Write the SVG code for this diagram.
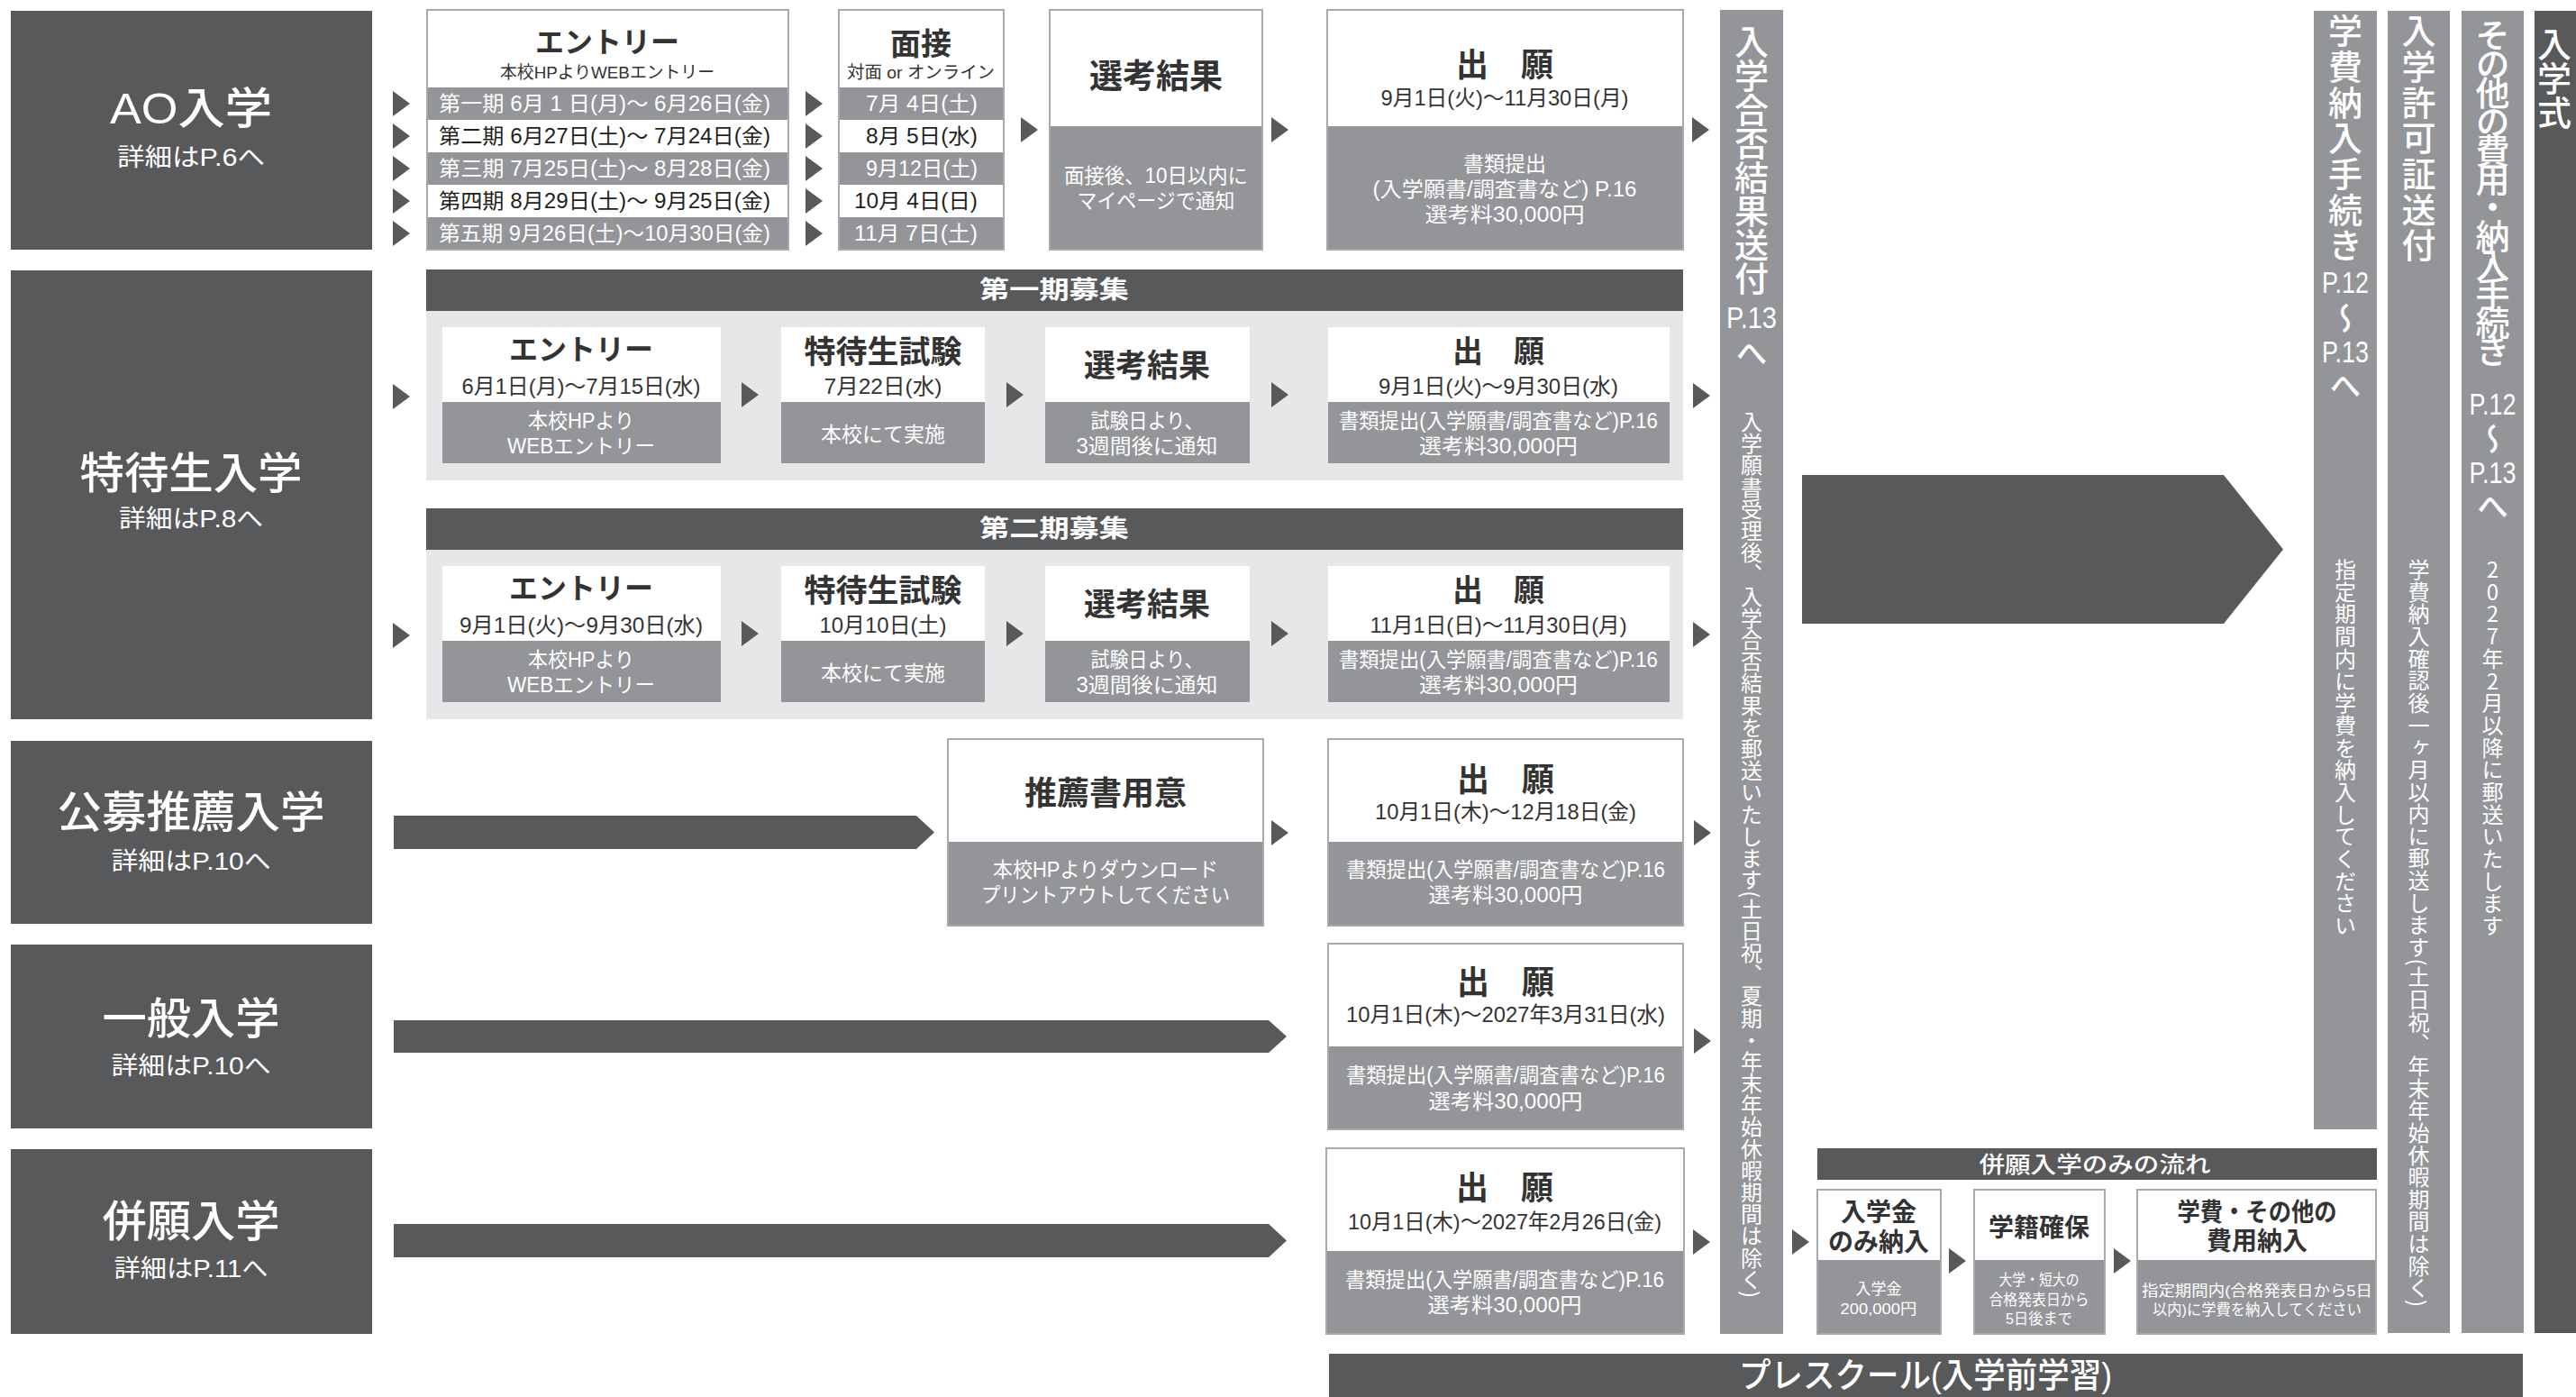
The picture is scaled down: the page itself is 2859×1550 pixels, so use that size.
<svg xmlns="http://www.w3.org/2000/svg" width="2859" height="1550" viewBox="0 0 2859 1550">
<defs>
<style>
.dk{fill:#58595b}
.md{fill:#939598}
.lt{fill:#e6e7e8}
.wh{fill:#fff}
.ol{fill:none;stroke:#a7a9ac;stroke-width:2}
text{font-family:"Liberation Sans","Noto Sans CJK JP",sans-serif;text-anchor:middle;dominant-baseline:central}
.ct{font-size:48px;font-weight:500;fill:#fff}
.cs{font-size:27px;fill:#fff}
.ti{font-size:34px;font-weight:700;fill:#333}
.ti2{font-size:28px;font-weight:700;fill:#333}
.dt{font-size:24px;fill:#333}
.sm{font-size:19px;fill:#333}
.rb{font-size:23px;fill:#231f20}
.rw{font-size:23px;fill:#fff}
.ws{font-size:23px;fill:#fff}
.ws2{font-size:17px;fill:#fff}
.hb{font-size:27px;font-weight:700;fill:#fff}
.vt{font-family:"Noto Sans CJK JP",sans-serif;writing-mode:vertical-rl;text-anchor:start;fill:#fff}
.vh{font-size:38px;font-weight:500}
.vm{font-size:35px;font-weight:500}
.vs{font-size:24px}
.cp{font-size:34px;fill:#fff}
.pb{font-size:38px;font-weight:500;fill:#fff}
</style>
<path id="ar" d="M0,-14L19,0L0,14Z" fill="#58595b"/>
</defs>
<rect width="2859" height="1550" fill="#fff"/>

<!-- Category boxes -->
<g id="cat-ao">
<rect class="dk" x="12" y="12" width="401" height="265"/>
<text class="ct" x="212" y="120" textLength="180" lengthAdjust="spacingAndGlyphs">AO入学</text>
<text class="cs" x="212" y="175" textLength="164" lengthAdjust="spacingAndGlyphs">詳細はP.6へ</text>
</g>
<g id="cat-tokutai">
<rect class="dk" x="12" y="300" width="401" height="498"/>
<text class="ct" x="212" y="525" textLength="247" lengthAdjust="spacingAndGlyphs">特待生入学</text>
<text class="cs" x="212" y="576" textLength="160" lengthAdjust="spacingAndGlyphs">詳細はP.8へ</text>
</g>
<g id="cat-koubo">
<rect class="dk" x="12" y="822" width="401" height="203"/>
<text class="ct" x="212" y="901" textLength="297" lengthAdjust="spacingAndGlyphs">公募推薦入学</text>
<text class="cs" x="212" y="956" textLength="177" lengthAdjust="spacingAndGlyphs">詳細はP.10へ</text>
</g>
<g id="cat-ippan">
<rect class="dk" x="12" y="1048" width="401" height="204"/>
<text class="ct" x="212" y="1130" textLength="197" lengthAdjust="spacingAndGlyphs">一般入学</text>
<text class="cs" x="212" y="1183" textLength="177" lengthAdjust="spacingAndGlyphs">詳細はP.10へ</text>
</g>
<g id="cat-heigan">
<rect class="dk" x="12" y="1275" width="401" height="205"/>
<text class="ct" x="212" y="1355" textLength="197" lengthAdjust="spacingAndGlyphs">併願入学</text>
<text class="cs" x="212" y="1408" textLength="171" lengthAdjust="spacingAndGlyphs">詳細はP.11へ</text>
</g>

<!-- AO row -->
<g id="ao-entry">
<rect class="wh" x="474" y="11" width="401" height="86"/>
<rect class="md" x="474" y="97" width="401" height="36"/>
<rect class="wh" x="474" y="133" width="401" height="36"/>
<rect class="md" x="474" y="169" width="401" height="36"/>
<rect class="wh" x="474" y="205" width="401" height="36"/>
<rect class="md" x="474" y="241" width="401" height="36"/>
<rect class="ol" x="474" y="11" width="401" height="266"/>
<text class="ti" x="674" y="47" style="font-size:32px">エントリー</text>
<text class="sm" x="674" y="80" textLength="238" lengthAdjust="spacingAndGlyphs">本校HPよりWEBエントリー</text>
<text class="rw" x="671" y="115" textLength="368" lengthAdjust="spacingAndGlyphs">第一期 6月 1 日(月)～ 6月26日(金)</text>
<text class="rb" x="671" y="151" textLength="368" lengthAdjust="spacingAndGlyphs">第二期 6月27日(土)～ 7月24日(金)</text>
<text class="rw" x="671" y="187" textLength="368" lengthAdjust="spacingAndGlyphs">第三期 7月25日(土)～ 8月28日(金)</text>
<text class="rb" x="671" y="223" textLength="368" lengthAdjust="spacingAndGlyphs">第四期 8月29日(土)～ 9月25日(金)</text>
<text class="rw" x="671" y="259" textLength="368" lengthAdjust="spacingAndGlyphs">第五期 9月26日(土)～10月30日(金)</text>
</g>
<g id="ao-interview">
<rect class="wh" x="931" y="11" width="183" height="86"/>
<rect class="md" x="931" y="97" width="183" height="36"/>
<rect class="wh" x="931" y="133" width="183" height="36"/>
<rect class="md" x="931" y="169" width="183" height="36"/>
<rect class="wh" x="931" y="205" width="183" height="36"/>
<rect class="md" x="931" y="241" width="183" height="36"/>
<rect class="ol" x="931" y="11" width="183" height="266"/>
<text class="ti" x="1022" y="49">面接</text>
<text class="sm" x="1022" y="80" textLength="164" lengthAdjust="spacingAndGlyphs">対面 or オンライン</text>
<text class="rw" x="1085" y="115" style="text-anchor:end" textLength="124" lengthAdjust="spacingAndGlyphs">7月 4日(土)</text>
<text class="rb" x="1085" y="151" style="text-anchor:end" textLength="124" lengthAdjust="spacingAndGlyphs">8月 5日(水)</text>
<text class="rw" x="1085" y="187" style="text-anchor:end" textLength="124" lengthAdjust="spacingAndGlyphs">9月12日(土)</text>
<text class="rb" x="1085" y="223" style="text-anchor:end" textLength="137" lengthAdjust="spacingAndGlyphs">10月 4日(日)</text>
<text class="rw" x="1085" y="259" style="text-anchor:end" textLength="137" lengthAdjust="spacingAndGlyphs">11月 7日(土)</text>
</g>
<g id="ao-result">
<rect class="wh" x="1165" y="11" width="236" height="129"/>
<rect class="md" x="1165" y="140" width="236" height="137"/>
<rect class="ol" x="1165" y="11" width="236" height="266"/>
<text class="ti" x="1283" y="85" style="font-size:37px">選考結果</text>
<text class="ws" x="1283" y="195" textLength="204" lengthAdjust="spacingAndGlyphs">面接後、10日以内に</text>
<text class="ws" x="1283" y="223" textLength="175" lengthAdjust="spacingAndGlyphs">マイページで通知</text>
</g>
<g id="ao-apply">
<rect class="wh" x="1473" y="11" width="395" height="129"/>
<rect class="md" x="1473" y="140" width="395" height="137"/>
<rect class="ol" x="1473" y="11" width="395" height="266"/>
<text class="ti" x="1670" y="72" style="font-size:36px">出　願</text>
<text class="dt" x="1670" y="108" textLength="275" lengthAdjust="spacingAndGlyphs">9月1日(火)～11月30日(月)</text>
<text class="ws" x="1670" y="182">書類提出</text>
<text class="ws" x="1670" y="210" textLength="293" lengthAdjust="spacingAndGlyphs">(入学願書/調査書など) P.16</text>
<text class="ws" x="1670" y="238" textLength="177" lengthAdjust="spacingAndGlyphs">選考料30,000円</text>
</g>

<!-- Tokutai period 1 -->
<g id="tokutai-1">
<rect class="dk" x="473" y="299" width="1395" height="46"/>
<text class="hb" x="1170" y="322" textLength="166" lengthAdjust="spacingAndGlyphs">第一期募集</text>
<rect class="lt" x="473" y="345" width="1395" height="188"/>
</g>
<g id="t1-entry">
<rect class="wh" x="491" y="363" width="309" height="83"/>
<rect class="md" x="491" y="446" width="309" height="68"/>
<text class="ti" x="645" y="388" style="font-size:32px">エントリー</text>
<text class="dt" x="645" y="428" textLength="265" lengthAdjust="spacingAndGlyphs">6月1日(月)～7月15日(水)</text>
<text class="ws" x="645" y="467" textLength="118" lengthAdjust="spacingAndGlyphs">本校HPより</text>
<text class="ws" x="645" y="495" textLength="164" lengthAdjust="spacingAndGlyphs">WEBエントリー</text>
</g>
<g id="t1-exam">
<rect class="wh" x="867" y="363" width="226" height="83"/>
<rect class="md" x="867" y="446" width="226" height="68"/>
<text class="ti" x="980" y="390" style="font-size:35px">特待生試験</text>
<text class="dt" x="980" y="428" textLength="131" lengthAdjust="spacingAndGlyphs">7月22日(水)</text>
<text class="ws" x="980" y="482" textLength="138" lengthAdjust="spacingAndGlyphs">本校にて実施</text>
</g>
<g id="t1-result">
<rect class="wh" x="1160" y="363" width="227" height="83"/>
<rect class="md" x="1160" y="446" width="227" height="68"/>
<text class="ti" x="1273" y="405" style="font-size:35px">選考結果</text>
<text class="ws" x="1273" y="467" textLength="125" lengthAdjust="spacingAndGlyphs">試験日より、</text>
<text class="ws" x="1273" y="495" textLength="157" lengthAdjust="spacingAndGlyphs">3週間後に通知</text>
</g>
<g id="t1-apply">
<rect class="wh" x="1474" y="363" width="379" height="83"/>
<rect class="md" x="1474" y="446" width="379" height="68"/>
<text class="ti" x="1663" y="390">出　願</text>
<text class="dt" x="1663" y="428" textLength="266" lengthAdjust="spacingAndGlyphs">9月1日(火)～9月30日(水)</text>
<text class="ws" x="1663" y="467" textLength="354" lengthAdjust="spacingAndGlyphs">書類提出(入学願書/調査書など)P.16</text>
<text class="ws" x="1663" y="495" textLength="176" lengthAdjust="spacingAndGlyphs">選考料30,000円</text>
</g>

<!-- Tokutai period 2 -->
<g id="tokutai-2">
<rect class="dk" x="473" y="564" width="1395" height="46"/>
<text class="hb" x="1170" y="587" textLength="166" lengthAdjust="spacingAndGlyphs">第二期募集</text>
<rect class="lt" x="473" y="610" width="1395" height="188"/>
</g>
<g id="t2-entry">
<rect class="wh" x="491" y="628" width="309" height="83"/>
<rect class="md" x="491" y="711" width="309" height="68"/>
<text class="ti" x="645" y="653" style="font-size:32px">エントリー</text>
<text class="dt" x="645" y="693" textLength="270" lengthAdjust="spacingAndGlyphs">9月1日(火)～9月30日(水)</text>
<text class="ws" x="645" y="732" textLength="118" lengthAdjust="spacingAndGlyphs">本校HPより</text>
<text class="ws" x="645" y="760" textLength="164" lengthAdjust="spacingAndGlyphs">WEBエントリー</text>
</g>
<g id="t2-exam">
<rect class="wh" x="867" y="628" width="226" height="83"/>
<rect class="md" x="867" y="711" width="226" height="68"/>
<text class="ti" x="980" y="655" style="font-size:35px">特待生試験</text>
<text class="dt" x="980" y="693" textLength="141" lengthAdjust="spacingAndGlyphs">10月10日(土)</text>
<text class="ws" x="980" y="747" textLength="138" lengthAdjust="spacingAndGlyphs">本校にて実施</text>
</g>
<g id="t2-result">
<rect class="wh" x="1160" y="628" width="227" height="83"/>
<rect class="md" x="1160" y="711" width="227" height="68"/>
<text class="ti" x="1273" y="670" style="font-size:35px">選考結果</text>
<text class="ws" x="1273" y="732" textLength="125" lengthAdjust="spacingAndGlyphs">試験日より、</text>
<text class="ws" x="1273" y="760" textLength="157" lengthAdjust="spacingAndGlyphs">3週間後に通知</text>
</g>
<g id="t2-apply">
<rect class="wh" x="1474" y="628" width="379" height="83"/>
<rect class="md" x="1474" y="711" width="379" height="68"/>
<text class="ti" x="1663" y="655">出　願</text>
<text class="dt" x="1663" y="693" textLength="285" lengthAdjust="spacingAndGlyphs">11月1日(日)～11月30日(月)</text>
<text class="ws" x="1663" y="732" textLength="354" lengthAdjust="spacingAndGlyphs">書類提出(入学願書/調査書など)P.16</text>
<text class="ws" x="1663" y="760" textLength="176" lengthAdjust="spacingAndGlyphs">選考料30,000円</text>
</g>

<!-- Koubo -->
<g id="koubo-suisen">
<rect class="wh" x="1052" y="820" width="350" height="114"/>
<rect class="md" x="1052" y="934" width="350" height="93"/>
<rect class="ol" x="1052" y="820" width="350" height="207"/>
<text class="ti" x="1227" y="880" style="font-size:36px">推薦書用意</text>
<text class="ws" x="1227" y="965" textLength="250" lengthAdjust="spacingAndGlyphs">本校HPよりダウンロード</text>
<text class="ws" x="1227" y="993" textLength="276" lengthAdjust="spacingAndGlyphs">プリントアウトしてください</text>
</g>
<g id="koubo-apply">
<rect class="wh" x="1474" y="820" width="394" height="114"/>
<rect class="md" x="1474" y="934" width="394" height="93"/>
<rect class="ol" x="1474" y="820" width="394" height="207"/>
<text class="ti" x="1671" y="865" style="font-size:36px">出　願</text>
<text class="dt" x="1671" y="900" textLength="290" lengthAdjust="spacingAndGlyphs">10月1日(木)～12月18日(金)</text>
<text class="ws" x="1671" y="965" textLength="354" lengthAdjust="spacingAndGlyphs">書類提出(入学願書/調査書など)P.16</text>
<text class="ws" x="1671" y="993" textLength="171" lengthAdjust="spacingAndGlyphs">選考料30,000円</text>
</g>

<!-- Ippan -->
<g id="ippan-apply">
<rect class="wh" x="1474" y="1047" width="394" height="114"/>
<rect class="md" x="1474" y="1161" width="394" height="92"/>
<rect class="ol" x="1474" y="1047" width="394" height="206"/>
<text class="ti" x="1671" y="1090" style="font-size:36px">出　願</text>
<text class="dt" x="1671" y="1125" textLength="354" lengthAdjust="spacingAndGlyphs">10月1日(木)～2027年3月31日(水)</text>
<text class="ws" x="1671" y="1193" textLength="354" lengthAdjust="spacingAndGlyphs">書類提出(入学願書/調査書など)P.16</text>
<text class="ws" x="1671" y="1222" textLength="171" lengthAdjust="spacingAndGlyphs">選考料30,000円</text>
</g>

<!-- Heigan -->
<g id="heigan-apply">
<rect class="wh" x="1472" y="1274" width="397" height="114"/>
<rect class="md" x="1472" y="1388" width="397" height="92"/>
<rect class="ol" x="1472" y="1274" width="397" height="206"/>
<text class="ti" x="1670" y="1318" style="font-size:36px">出　願</text>
<text class="dt" x="1670" y="1355" textLength="348" lengthAdjust="spacingAndGlyphs">10月1日(木)～2027年2月26日(金)</text>
<text class="ws" x="1670" y="1420" textLength="354" lengthAdjust="spacingAndGlyphs">書類提出(入学願書/調査書など)P.16</text>
<text class="ws" x="1670" y="1448" textLength="171" lengthAdjust="spacingAndGlyphs">選考料30,000円</text>
</g>

<!-- Vertical columns -->
<g id="col-goukaku">
<rect class="md" x="1909" y="11" width="70" height="1469"/>
<text class="vt vh" x="1944" y="27" textLength="301" lengthAdjust="spacing">入学合否結果送付</text>
<text class="cp" x="1944" y="352" textLength="56" lengthAdjust="spacingAndGlyphs">P.13</text>
<text class="vt vm" x="1944" y="374">へ</text>
<text class="vt vs" x="1944" y="456" textLength="984" lengthAdjust="spacing">入学願書受理後、入学合否結果を郵送いたします(土日祝、夏期・年末年始休暇期間は除く)</text>
</g>
<g id="col-gakuhi">
<rect class="md" x="2568" y="12" width="70" height="1241"/>
<text class="vt vh" x="2603" y="15" textLength="276" lengthAdjust="spacing">学費納入手続き</text>
<text class="cp" x="2603" y="313" textLength="52" lengthAdjust="spacingAndGlyphs">P.12</text>
<text class="vt vm" x="2603" y="335">～</text>
<text class="cp" x="2603" y="390" textLength="52" lengthAdjust="spacingAndGlyphs">P.13</text>
<text class="vt vm" x="2603" y="410">へ</text>
<text class="vt vs" x="2603" y="620" textLength="419" lengthAdjust="spacing">指定期間内に学費を納入してください</text>
</g>
<g id="col-kyoka">
<rect class="md" x="2650" y="12" width="69" height="1467"/>
<text class="vt vh" x="2684.5" y="15" textLength="276" lengthAdjust="spacing">入学許可証送付</text>
<text class="vt vs" x="2684.5" y="620" textLength="830" lengthAdjust="spacing">学費納入確認後一ヶ月以内に郵送します(土日祝、年末年始休暇期間は除く)</text>
</g>
<g id="col-sonota">
<rect class="md" x="2732" y="12" width="69" height="1467"/>
<text class="vt vh" x="2766.5" y="20" textLength="388" lengthAdjust="spacing">その他の費用・納入手続き</text>
<text class="cp" x="2766.5" y="448" textLength="52" lengthAdjust="spacingAndGlyphs">P.12</text>
<text class="vt vm" x="2766.5" y="469">～</text>
<text class="cp" x="2766.5" y="524" textLength="52" lengthAdjust="spacingAndGlyphs">P.13</text>
<text class="vt vm" x="2766.5" y="544">へ</text>
<text class="vt vs" x="2766.5" y="620" textLength="419" lengthAdjust="spacing" style="text-orientation:upright">2027年2月以降に郵送いたします</text>
</g>
<g id="col-nyugakushiki">
<rect class="dk" x="2813" y="12" width="60" height="1467"/>
<text class="vt vh" x="2835" y="30" textLength="114" lengthAdjust="spacing">入学式</text>
</g>

<!-- Heigan-only flow -->
<g id="heigan-only-header">
<rect class="dk" x="2017" y="1274" width="621" height="35"/>
<text class="hb" x="2325" y="1292" style="font-size:25px;font-weight:500" textLength="257" lengthAdjust="spacingAndGlyphs">併願入学のみの流れ</text>
</g>
<g id="ho-nyugakukin">
<rect class="wh" x="2017" y="1320" width="137" height="78"/>
<rect class="md" x="2017" y="1398" width="137" height="82"/>
<rect class="ol" x="2017" y="1320" width="137" height="160"/>
<text class="ti2" x="2085" y="1345">入学金</text>
<text class="ti2" x="2085" y="1378">のみ納入</text>
<text class="ws2" x="2085" y="1430">入学金</text>
<text class="ws2" x="2085" y="1452" textLength="85" lengthAdjust="spacingAndGlyphs">200,000円</text>
</g>
<g id="ho-gakuseki">
<rect class="wh" x="2191" y="1320" width="145" height="78"/>
<rect class="md" x="2191" y="1398" width="145" height="82"/>
<rect class="ol" x="2191" y="1320" width="145" height="160"/>
<text class="ti2" x="2263" y="1362">学籍確保</text>
<text class="ws2" x="2263" y="1420" textLength="89" lengthAdjust="spacingAndGlyphs">大学・短大の</text>
<text class="ws2" x="2263" y="1442" textLength="111" lengthAdjust="spacingAndGlyphs">合格発表日から</text>
<text class="ws2" x="2263" y="1463" textLength="74" lengthAdjust="spacingAndGlyphs">5日後まで</text>
</g>
<g id="ho-gakuhi">
<rect class="wh" x="2372" y="1320" width="265" height="78"/>
<rect class="md" x="2372" y="1398" width="265" height="82"/>
<rect class="ol" x="2372" y="1320" width="265" height="160"/>
<text class="ti2" x="2505" y="1345" textLength="177" lengthAdjust="spacingAndGlyphs">学費・その他の</text>
<text class="ti2" x="2505" y="1377">費用納入</text>
<text class="ws2" x="2505" y="1432" textLength="256" lengthAdjust="spacingAndGlyphs">指定期間内(合格発表日から5日</text>
<text class="ws2" x="2505" y="1453" textLength="232" lengthAdjust="spacingAndGlyphs">以内)に学費を納入してください</text>
</g>

<g id="preschool">
<rect class="dk" x="1475" y="1502" width="1325" height="60"/>
<text class="pb" x="2137" y="1526" textLength="414" lengthAdjust="spacingAndGlyphs">プレスクール(入学前学習)</text>
</g>

<!-- Connectors -->
<g id="connectors">
<use href="#ar" x="436" y="115"/><use href="#ar" x="436" y="151"/><use href="#ar" x="436" y="187"/><use href="#ar" x="436" y="223"/><use href="#ar" x="436" y="259"/>
<use href="#ar" x="894" y="115"/><use href="#ar" x="894" y="151"/><use href="#ar" x="894" y="187"/><use href="#ar" x="894" y="223"/><use href="#ar" x="894" y="259"/>
<use href="#ar" x="1133" y="144"/>
<use href="#ar" x="1411" y="144"/>
<use href="#ar" x="1878" y="144"/>
<use href="#ar" x="436" y="440"/><use href="#ar" x="823" y="438"/><use href="#ar" x="1117" y="438"/><use href="#ar" x="1411" y="438"/><use href="#ar" x="1879" y="439"/>
<use href="#ar" x="436" y="705"/><use href="#ar" x="823" y="703"/><use href="#ar" x="1117" y="703"/><use href="#ar" x="1411" y="703"/><use href="#ar" x="1879" y="704"/>
<path class="dk" d="M437,905H1017L1037,923.5L1017,942H437Z"/>
<use href="#ar" x="1411" y="924"/>
<use href="#ar" x="1880" y="924"/>
<path class="dk" d="M437,1132H1408L1428,1150L1408,1168H437Z"/>
<use href="#ar" x="1880" y="1155"/>
<path class="dk" d="M437,1358H1408L1428,1376.5L1408,1395H437Z"/>
<use href="#ar" x="1879" y="1378"/>
<use href="#ar" x="1989" y="1378"/>
<use href="#ar" x="2163" y="1399"/>
<use href="#ar" x="2346" y="1399"/>
<path class="dk" d="M2000,527H2468L2534,609.5L2468,692H2000Z"/>
</g>
</svg>
